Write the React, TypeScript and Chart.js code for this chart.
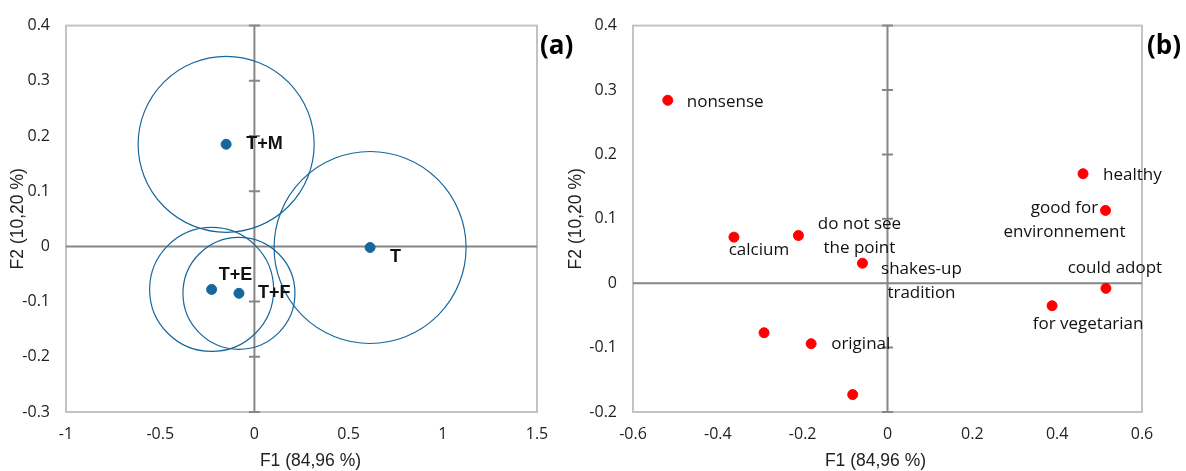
import React, { useEffect, useRef } from "react";
import { Chart, registerables } from "chart.js";

Chart.register(...registerables);

// ---------- Panel (a): products ----------
const productsA = ["T+M", "T", "T+E", "T+F"];
const f1A = [-0.15, 0.614, -0.227, -0.082];
const f2A = [0.185, -0.002, -0.078, -0.085];
const bubbleSizeA = [88, 96, 62, 56];
const xTicksA = [-1, -0.5, 0, 0.5, 1, 1.5];
const yTicksA = [-0.3, -0.2, -0.1, 0, 0.1, 0.2, 0.3, 0.4];

// ---------- Panel (b): terms ----------
const termsB = [
  "nonsense",
  "calcium",
  "do not see\nthe point",
  "shakes-up\ntradition",
  "",
  "original",
  "",
  "healthy",
  "good for\nenvironnement",
  "could adopt",
  "for vegetarian",
];
const f1B = [-0.518, -0.362, -0.21, -0.059, -0.291, -0.18, -0.082, 0.461, 0.514, 0.515, 0.388];
const f2B = [0.284, 0.0715, 0.074, 0.031, -0.077, -0.094, -0.173, 0.17, 0.113, -0.008, -0.035];
const xTicksB = [-0.6, -0.4, -0.2, 0, 0.2, 0.4, 0.6];
const yTicksB = [-0.2, -0.1, 0, 0.1, 0.2, 0.3, 0.4];

const xTitle = "F1 (84,96 %)";
const yTitle = "F2 (10,20 %)";

// ---------- label layout (pixel offsets from the point) ----------
type LabelLayout = { dx: number; dy: number; align: CanvasTextAlign };
const labelLayoutA: LabelLayout[] = [
  { dx: 20, dy: 0, align: "left" },
  { dx: 20, dy: 10, align: "left" },
  { dx: 7, dy: -14, align: "left" },
  { dx: 19, dy: 0, align: "left" },
];
const labelLayoutB: LabelLayout[] = [
  { dx: 19, dy: 2, align: "left" },
  { dx: 25, dy: 13, align: "center" },
  { dx: 61, dy: 1, align: "center" },
  { dx: 59, dy: 18, align: "center" },
  { dx: 0, dy: 0, align: "left" },
  { dx: 20, dy: 0, align: "left" },
  { dx: 0, dy: 0, align: "left" },
  { dx: 20, dy: 1, align: "left" },
  { dx: -41, dy: 10, align: "center" },
  { dx: 9, dy: -20, align: "center" },
  { dx: 36, dy: 18, align: "center" },
];

const BLUE = "#17679c";
const RED = "#ff0000";
const TICK_FONT = { family: '"Open Sans", sans-serif', size: 16 };
const TITLE_FONT = { family: '"Liberation Sans", Arial, sans-serif', size: 17.5 };
const TITLE_CSS = '17.5px "Liberation Sans", Arial, sans-serif';

const fmt = (v: number) => String(Number(v.toFixed(2)));

function makePlugin(cfg: {
  id: string;
  yTicks: number[];
  datasetIndex: number;
  labels: string[];
  layout: LabelLayout[];
  font: string;
  lineHeight: number;
  panelLabel: string;
  panelX: number;
  panelY: number;
  xTitleShift: number;
  xTitleY: number;
}) {
  return {
    id: cfg.id,
    beforeDatasetsDraw(chart: any) {
      const { ctx, chartArea: a, scales } = chart;
      const xs = scales.x;
      const ys = scales.y;
      ctx.save();
      ctx.strokeStyle = "#c3c3c3";
      ctx.lineWidth = 2;
      ctx.strokeRect(a.left, a.top, a.right - a.left, a.bottom - a.top);
      const x0 = xs.getPixelForValue(0);
      const y0 = ys.getPixelForValue(0);
      ctx.strokeStyle = "#868686";
      ctx.lineWidth = 2;
      ctx.beginPath();
      ctx.moveTo(a.left, y0);
      ctx.lineTo(a.right, y0);
      ctx.moveTo(x0, a.top);
      ctx.lineTo(x0, a.bottom);
      for (const v of cfg.yTicks) {
        const p = ys.getPixelForValue(v);
        ctx.moveTo(x0 - 5.5, p);
        ctx.lineTo(x0 + 5.5, p);
      }
      ctx.stroke();
      // x axis title
      ctx.font = TITLE_CSS;
      ctx.fillStyle = "#222222";
      ctx.textAlign = "center";
      ctx.textBaseline = "middle";
      ctx.fillText(xTitle, (a.left + a.right) / 2 + cfg.xTitleShift, cfg.xTitleY);
      ctx.restore();
    },
    afterDatasetsDraw(chart: any) {
      const { ctx } = chart;
      const meta = chart.getDatasetMeta(cfg.datasetIndex);
      ctx.save();
      ctx.font = cfg.font;
      ctx.fillStyle = "#111111";
      ctx.textBaseline = "middle";
      cfg.labels.forEach((txt, i) => {
        if (!txt) return;
        const el = meta.data[i];
        const L = cfg.layout[i];
        const lines = txt.split("\n");
        const n = lines.length;
        ctx.textAlign = L.align;
        lines.forEach((ln, k) => {
          ctx.fillText(ln, el.x + L.dx, el.y + L.dy + (k - (n - 1) / 2) * cfg.lineHeight);
        });
      });
      ctx.font = 'bold 26px "Open Sans", sans-serif';
      ctx.textAlign = "left";
      ctx.fillStyle = "#000000";
      ctx.fillText(cfg.panelLabel, cfg.panelX, cfg.panelY);
      ctx.restore();
    },
  };
}

function scaleOpts(
  axis: "x" | "y",
  ticks: number[],
  fixedSize: number,
  tickPadding: number,
  titlePad: { top: number; bottom: number }
) {
  return {
    type: "linear",
    position: axis === "x" ? "bottom" : "left",
    min: ticks[0],
    max: ticks[ticks.length - 1],
    afterBuildTicks: (s: any) => {
      s.ticks = ticks.map((v) => ({ value: v }));
    },
    afterFit: (s: any) => {
      if (axis === "x") s.height = fixedSize;
      else s.width = fixedSize;
    },
    grid: { display: false, drawTicks: false },
    border: { display: false },
    ticks: {
      font: TICK_FONT,
      color: "#222222",
      padding: tickPadding,
      maxRotation: 0,
      autoSkip: false,
      callback: (v: any) => fmt(Number(v)),
    },
    title: {
      display: axis === "y",
      text: yTitle,
      font: TITLE_FONT,
      color: "#222222",
      padding: titlePad,
    },
  };
}

function ChartA() {
  const ref = useRef<HTMLCanvasElement | null>(null);
  useEffect(() => {
    if (!ref.current) return;
    const chart = new Chart(ref.current, {
      type: "scatter",
      data: {
        datasets: [
          {
            type: "scatter",
            data: f1A.map((x, i) => ({ x, y: f2A[i] })),
            backgroundColor: BLUE,
            borderColor: BLUE,
            pointRadius: 5,
            pointHoverRadius: 5,
          },
          {
            type: "bubble",
            data: f1A.map((x, i) => ({ x, y: f2A[i], r: bubbleSizeA[i] })),
            backgroundColor: "rgba(0,0,0,0)",
            borderColor: BLUE,
            borderWidth: 1.2,
          },
        ],
      } as any,
      options: {
        animation: false,
        responsive: false,
        events: [],
        layout: { autoPadding: false, padding: { top: 21, right: 53, left: 0, bottom: 0 } },
        plugins: { legend: { display: false }, tooltip: { enabled: false } },
        scales: {
          x: scaleOpts("x", xTicksA, 59, 13, { top: 0, bottom: 0 }),
          y: scaleOpts("y", yTicksA, 66, 16, { top: 8, bottom: 0 }),
        } as any,
      } as any,
      plugins: [
        makePlugin({
          id: "panelA",
          yTicks: yTicksA,
          datasetIndex: 0,
          labels: productsA,
          layout: labelLayoutA,
          font: 'bold 18px "Liberation Sans", Arial, sans-serif',
          lineHeight: 22,
          panelLabel: "(a)",
          panelX: 540,
          panelY: 47,
          xTitleShift: 9,
          xTitleY: 461,
        }),
      ],
    });
    return () => chart.destroy();
  }, []);
  return (
    <canvas
      ref={ref}
      width={590}
      height={471}
      style={{ position: "absolute", left: 0, top: 0, width: 590, height: 471 }}
    />
  );
}

function ChartB() {
  const ref = useRef<HTMLCanvasElement | null>(null);
  useEffect(() => {
    if (!ref.current) return;
    const chart = new Chart(ref.current, {
      type: "scatter",
      data: {
        datasets: [
          {
            type: "scatter",
            data: f1B.map((x, i) => ({ x, y: f2B[i] })),
            backgroundColor: RED,
            borderColor: RED,
            pointRadius: 5,
            pointHoverRadius: 5,
          },
        ],
      } as any,
      options: {
        animation: false,
        responsive: false,
        events: [],
        layout: { autoPadding: false, padding: { top: 23, right: 44, left: 0, bottom: 0 } },
        plugins: { legend: { display: false }, tooltip: { enabled: false } },
        scales: {
          x: scaleOpts("x", xTicksB, 59, 13, { top: 0, bottom: 0 }),
          y: scaleOpts("y", yTicksB, 73, 16, { top: 6, bottom: 0 }),
        } as any,
      } as any,
      plugins: [
        makePlugin({
          id: "panelB",
          yTicks: yTicksB,
          datasetIndex: 0,
          labels: termsB,
          layout: labelLayoutB,
          font: '17px "Open Sans", sans-serif',
          lineHeight: 24,
          panelLabel: "(b)",
          panelX: 587,
          panelY: 47,
          xTitleShift: -12,
          xTitleY: 461,
        }),
      ],
    });
    return () => chart.destroy();
  }, []);
  return (
    <canvas
      ref={ref}
      width={626}
      height={471}
      style={{ position: "absolute", left: 560, top: 0, width: 626, height: 471 }}
    />
  );
}

export default function App() {
  return (
    <div
      style={{
        position: "fixed",
        left: 0,
        top: 0,
        width: 1186,
        height: 471,
        background: "#ffffff",
        overflow: "hidden",
      }}
    >
      <ChartA />
      <ChartB />
    </div>
  );
}
